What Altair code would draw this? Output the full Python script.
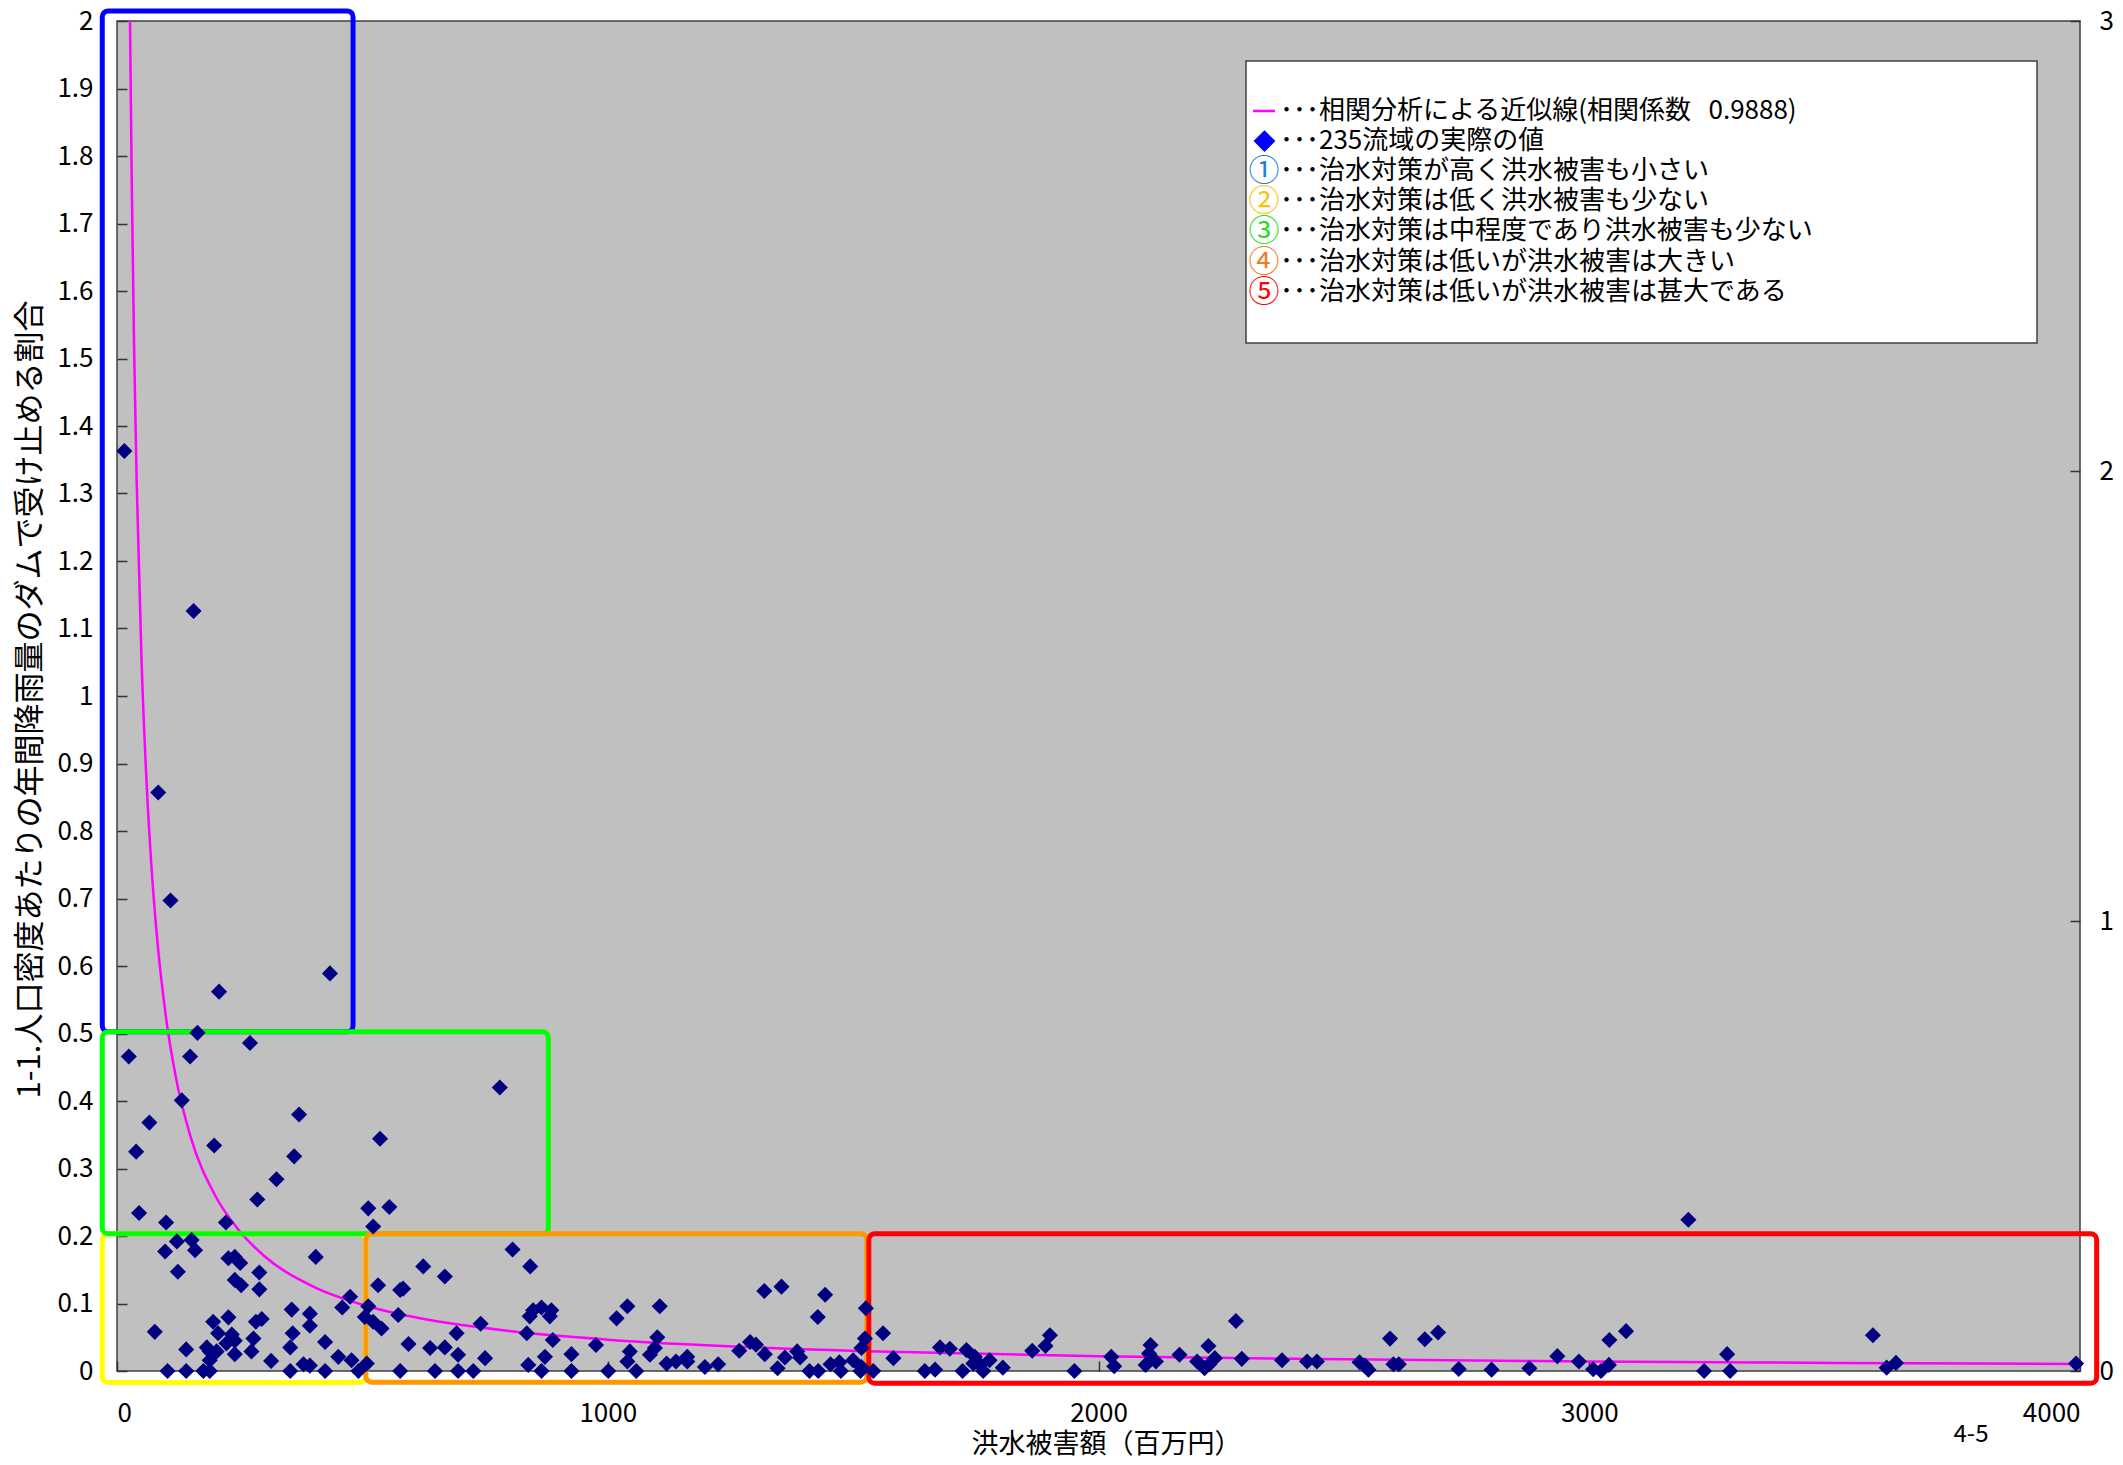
import altair as alt
import pandas as pd

# ---------------- data ----------------
x_vals = [
    15, 156, 84, 109, 208, 434, 164, 271, 24, 149, 780, 132, 371, 66, 39, 198, 361, 536, 325, 286,
    45, 100, 222, 512, 555, 522,
    122, 152, 159, 98, 124, 227, 240, 251, 240, 253, 290, 290, 405, 475, 459, 512, 505, 522, 539,
    532, 583, 577, 624, 668, 806, 842, 573, 741, 692, 594, 638, 668, 695, 750, 577, 648, 695, 726,
    848, 865, 885, 841, 882, 835, 888, 872, 838, 865,
    77, 141, 196, 227, 206, 234, 223, 240, 183, 189, 203, 240, 189, 274, 278, 283, 295, 314, 356,
    393, 393, 358, 353, 424, 451, 478, 380, 393, 103, 141, 176, 189, 353, 424, 492, 509,
    1040, 1018, 1106, 1101, 976, 926, 926, 1001, 1045, 1040, 1058, 1086, 1096, 1120, 1139, 1162,
    1162, 1198, 1225, 1268, 1290, 1302, 1320, 1319, 1354, 1361, 1346, 1386, 1392, 1411, 1429, 1443,
    1428, 1454, 1472, 1475, 1500, 1526, 1524, 1517, 1517, 1515, 1561, 1582, 1541, 1646, 1667, 1677,
    1697, 1731, 1748, 1759, 1723, 1765, 1778, 1805, 1745,
    1865, 1892, 1901, 1951, 2026, 2032, 2106, 2103, 2096, 2117, 2165, 2201, 2216, 2224, 2237, 2226,
    2280, 2292, 2374, 2425, 2445, 2532, 2550, 2543, 2594, 2601, 2612, 2665, 2692, 2734, 2801, 2878,
    3202, 2935, 2979, 3008, 3024, 3040, 3041, 3075, 3234, 3281, 3287, 3578, 3606, 3625, 3992,
]
y_vals = [
    1.363, 1.126, 0.857, 0.697, 0.562, 0.589, 0.501, 0.486, 0.466, 0.466, 0.420, 0.401, 0.380, 0.368,
    0.325, 0.334, 0.318, 0.344, 0.284, 0.254, 0.234, 0.220, 0.220, 0.241, 0.243, 0.214,
    0.192, 0.194, 0.179, 0.177, 0.147, 0.167, 0.169, 0.160, 0.135, 0.127, 0.146, 0.121, 0.169, 0.110,
    0.094, 0.096, 0.080, 0.073, 0.063, 0.127, 0.122, 0.120, 0.155, 0.140, 0.180, 0.155, 0.083, 0.070,
    0.056, 0.040, 0.034, 0.035, 0.024, 0.019, 0.0, 0.0, 0.0, 0.0,
    0.090, 0.094, 0.090, 0.081, 0.081, 0.056, 0.046, 0.021, 0.009, 0.0,
    0.058, 0.032, 0.073, 0.0795, 0.056, 0.054, 0.041, 0.045, 0.035, 0.029, 0.029, 0.025, 0.016, 0.029,
    0.048, 0.073, 0.077, 0.015, 0.091, 0.085, 0.067, 0.056, 0.035, 0.043, 0.021, 0.016, 0.010, 0.008,
    0.0, 0.0, 0.0, 0.0, 0.0, 0.0, 0.0, 0.011,
    0.096, 0.078, 0.096, 0.050, 0.0385, 0.025, 0.0, 0.0, 0.029, 0.014, 0.0, 0.024, 0.034, 0.011, 0.014,
    0.021, 0.014, 0.006, 0.010, 0.030, 0.043, 0.039, 0.025, 0.1185, 0.125, 0.020, 0.004, 0.029, 0.020,
    0.0, 0.0, 0.113, 0.080, 0.010, 0.013, 0.0, 0.016, 0.093, 0.048, 0.034, 0.006, 0.0, 0.056, 0.019,
    0.0, 0.0, 0.002, 0.035, 0.033, 0.031, 0.021, 0.009, 0.0, 0.0, 0.016, 0.005, 0.011,
    0.030, 0.037, 0.053, 0.0, 0.021, 0.007, 0.0385, 0.026, 0.009, 0.014, 0.024, 0.014, 0.004, 0.037,
    0.019, 0.010, 0.074, 0.018, 0.016, 0.014, 0.014, 0.013, 0.002, 0.008, 0.048, 0.010, 0.010, 0.047,
    0.057, 0.003, 0.002, 0.004,
    0.224, 0.022, 0.014, 0.0025, 0.0, 0.009, 0.046, 0.059, 0.0, 0.025, 0.0, 0.053, 0.005, 0.012, 0.011,
]

# approximation curve
curve_x = [26.5, 30, 35, 40, 50, 60, 70, 80, 100, 120, 150, 200, 250, 300, 400, 500, 600, 800,
           1000, 1300, 1600, 2000, 2500, 3000, 3500, 4000]
curve_y = [2.0, 1.764, 1.510, 1.320, 1.053, 0.876, 0.750, 0.655, 0.523, 0.435, 0.347, 0.260, 0.207,
           0.1704, 0.125, 0.0982, 0.0806, 0.0591, 0.0464, 0.0350, 0.0280, 0.0220, 0.0173, 0.0142,
           0.0120, 0.0104]

# classification boxes (drawn bottom to top)
box_names = ["5", "4", "2", "3", "1"]
box_x1 = [1532, 507, -30, -30, -30]
box_x2 = [4034, 1528, 507, 879, 481]
box_y1 = [-0.018, -0.0165, -0.017, 0.2034, 0.5027]
box_y2 = [0.2034, 0.2034, 0.2034, 0.5027, 2.015]
box_colors = ["#FF0000", "#FF9900", "#FFFF00", "#00FF00", "#0000FF"]

x_ticks = [0, 1000, 2000, 3000, 4000]
y_ticks = [0, 0.1, 0.2, 0.3, 0.4, 0.5, 0.6, 0.7, 0.8, 0.9, 1, 1.1, 1.2, 1.3, 1.4, 1.5, 1.6, 1.7,
           1.8, 1.9, 2]
right_ticks = [0, 1, 2, 3]

x_title = "洪水被害額（百万円）"
y_title = "1-1.人口密度あたりの年間降雨量のダムで受け止める割合"
page_label = "4-5"

legend_texts = [
    "･･･相関分析による近似線(相関係数\u00a0\u00a0\u00a00.9888)",
    "･･･235流域の実際の値",
    "･･･治水対策が高く洪水被害も小さい",
    "･･･治水対策は低く洪水被害も少ない",
    "･･･治水対策は中程度であり洪水被害も少ない",
    "･･･治水対策は低いが洪水被害は大きい",
    "･･･治水対策は低いが洪水被害は甚大である",
]
legend_marks = ["①", "②", "③", "④", "⑤"]
legend_mark_colors = ["#1F7FD8", "#FFC000", "#22DD22", "#F47A20", "#FF0000"]

# ---------------- chart ----------------
FONT = "Noto Sans CJK JP"
W, H = 1963, 1350

xscale = alt.Scale(domain=[0, 4000], nice=False, zero=False)
yscale = alt.Scale(domain=[0, 2], nice=False, zero=False)

x_axis = alt.Axis(values=x_ticks, format="d", offset=-10, tickSize=10, domain=False, grid=False,
                  labelPadding=29, labelFontSize=26, tickColor="#333333", tickWidth=1.5,
                  title=x_title, titleFontSize=27, titleFontWeight="normal",
                  titleX=989, titleY=83, titleBaseline="middle", titleAlign="center")
y_axis = alt.Axis(values=y_ticks, format="~g", orient="left", offset=-10, tickSize=10, domain=False,
                  grid=False, labelPadding=24, labelFontSize=26, tickColor="#333333", tickWidth=1.5,
                  title=y_title, titleFontSize=31, titleFontWeight="normal",
                  titleX=-97, titleY=678, titleBaseline="middle", titleAlign="center", titleAngle=-90)

pts = pd.DataFrame({"x": x_vals, "y": y_vals})
curve = pd.DataFrame({"x": curve_x, "y": curve_y})
boxes = pd.DataFrame({"name": box_names, "x1": box_x1, "x2": box_x2, "y1": box_y1,
                      "y2": box_y2, "c": box_colors})

curve_layer = alt.Chart(curve).mark_line(color="#FF00FF", strokeWidth=2.5, interpolate="monotone").encode(
    x=alt.X("x:Q", scale=xscale, axis=x_axis),
    y=alt.Y("y:Q", scale=yscale, axis=y_axis),
)

box_layer = alt.Chart(boxes).mark_rect(fillOpacity=0, strokeWidth=5, cornerRadius=6).encode(
    x=alt.X("x1:Q", scale=xscale, axis=x_axis),
    x2="x2:Q",
    y=alt.Y("y1:Q", scale=yscale, axis=y_axis),
    y2="y2:Q",
    stroke=alt.Stroke("c:N", scale=None),
    order=alt.Order("name:N"),
)

pt_layer = alt.Chart(pts).mark_point(shape="diamond", filled=True, color="#000080", opacity=1,
                                     size=260).encode(
    x=alt.X("x:Q", scale=xscale, axis=x_axis),
    y=alt.Y("y:Q", scale=yscale, axis=y_axis),
)

one = pd.DataFrame({"a": [0]})
legend_box = alt.Chart(one).mark_rect(fill="white", stroke="#404040", strokeWidth=1.5).encode(
    x=alt.value(1129), x2=alt.value(1920), y=alt.value(40), y2=alt.value(322))

row_y = lambda i: 90 + i * 30.1
legend_layers = [legend_box]
legend_layers.append(alt.Chart(one).mark_rule(color="#FF00FF", strokeWidth=2.5).encode(
    x=alt.value(1136), x2=alt.value(1158), y=alt.value(row_y(0))))
legend_layers.append(alt.Chart(one).mark_point(shape="diamond", filled=True, color="#0000FF",
                                               opacity=1, size=480).encode(
    x=alt.value(1147.5), y=alt.value(row_y(1))))
for k, (m, c) in enumerate(zip(legend_marks, legend_mark_colors)):
    legend_layers.append(alt.Chart(one).mark_text(text=m, color=c, font=FONT, fontSize=31,
                                                  align="center", baseline="middle").encode(
        x=alt.value(1147), y=alt.value(row_y(k + 2) + 1)))
for k, t in enumerate(legend_texts):
    legend_layers.append(alt.Chart(one).mark_text(text=t, color="black", font=FONT, fontSize=26,
                                                  align="left", baseline="middle").encode(
        x=alt.value(1163), y=alt.value(row_y(k))))

label_layer = alt.Chart(one).mark_text(text=page_label, color="black", font=FONT, fontSize=24,
                                       align="center", baseline="middle").encode(
    x=alt.value(1854), y=alt.value(1414))

main = alt.layer(curve_layer, box_layer, pt_layer, *legend_layers, label_layer)

right_layer = alt.Chart(pd.DataFrame({"r": right_ticks})).mark_point(opacity=0).encode(
    y=alt.Y("r:Q", scale=alt.Scale(domain=[0, 3], nice=False, zero=False),
            axis=alt.Axis(values=right_ticks, orient="right", offset=-10, tickSize=10, domain=False,
                          grid=False, labelPadding=19, labelFontSize=26, tickColor="#333333",
                          tickWidth=1.5, title=None)),
)

chart = alt.layer(main, right_layer).resolve_scale(y="independent").properties(
    width=W, height=H,
    autosize=alt.AutoSizeParams(type="none"),
    padding={"left": 109, "top": 13, "right": 35, "bottom": 85},
).configure_view(
    fill="#C0C0C0", stroke="#404040", strokeWidth=1.5
).configure_axis(
    labelFont=FONT, titleFont=FONT, labelColor="black", titleColor="black"
)

chart.save("out.html", embed_options={"renderer": "svg", "actions": False})
